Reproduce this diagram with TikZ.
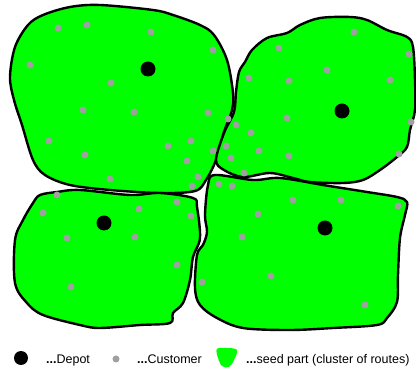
\documentclass[tikz,border=0pt]{standalone}
\usepackage{fontspec}
\setmainfont{Liberation Sans}
\definecolor{seedgreen}{RGB}{0,255,0}
\definecolor{custgray}{RGB}{160,160,160}
\begin{document}
\begin{tikzpicture}[x=1pt,y=-1pt,
  blob/.style={draw=black,fill=seedgreen,line width=2.4pt,line join=round},
  depot/.style={circle,fill=black,inner sep=0pt,minimum size=15pt},
  cust/.style={circle,fill=custgray,inner sep=0pt,minimum size=7pt},
  legtext/.style={anchor=base west,inner sep=0pt,font=\fontsize{12.5}{14}\selectfont}]
\useasboundingbox (0,0) rectangle (416,374);
% top-left blob
\draw[blob] plot[smooth cycle,tension=0.55] coordinates {
 (10,77) (15,47) (28,25) (43,15) (70,7) (100,5) (153,10) (173,15) (200,25) (214,35)
 (227,60) (233,93) (232,110) (224,132) (216,160) (206,180) (195,191) (160,193)
 (110,190) (70,185) (45,175) (33,160) (22,125) (14,100)};
% top-right blob
\draw[blob] plot[smooth cycle,tension=0.55] coordinates {
 (239,72) (245,62) (252,50) (267,38) (287,33) (300,25) (320,18) (350,17) (367,20)
 (387,30) (407,37) (413,47) (415,80) (415,110) (410,130) (407,147) (397,157)
 (380,170) (363,180) (343,183) (310,182) (293,178) (270,173) (243,177) (224,170)
 (216,160) (224,133) (234,112) (236,92)};
% bottom-left blob
\draw[blob] plot[smooth cycle,tension=0.55] coordinates {
 (40,195) (57,192) (80,190) (130,195) (160,193) (193,198) (197,207) (200,238)
 (193,257) (190,280) (183,303) (173,313) (170,323) (140,325) (100,328) (80,325)
 (43,315) (27,303) (15,283) (15,240) (23,220) (33,203)};
% bottom-right blob
\draw[blob] plot[smooth cycle,tension=0.55] coordinates {
 (215,175) (253,180) (280,178) (323,185) (367,192) (397,197) (407,202) (405,215)
 (400,238) (398,275) (397,302) (387,318) (377,325) (333,328) (290,330) (243,328)
 (217,318) (200,305) (195,288) (197,255) (203,245) (207,232) (205,215) (208,185)};
% customers
\foreach \p [count=\i] in {
 (58,28),(87,25),(151,32),(213,50),(30,65),(111,83),(83,110),(134,112),(208,113),
 (228,119),(236,125),(49,141),(168,146),(191,141),(226,146),(213,151),(85,155),
 (187,161),(231,158),(198,177),(110,179),(192,186),(219,184),(232,186),(57,195),
 (279,48),(354,32),(409,54),(249,78),(289,81),(327,70),(390,80),(287,118),(251,133),
 (259,151),(411,122),(289,156),(399,154),(244,173),
 (43,213),(139,209),(177,202),(191,216),(67,238),(135,237),(177,265),(71,287),(202,282),
 (293,200),(341,200),(398,206),(258,214),(242,237),(271,276),(365,305)}
  \node[cust] (c\i) at \p {};
% depots
\node[depot] (d1) at (148,69) {};
\node[depot] (d2) at (342,111) {};
\node[depot] (d3) at (104,223) {};
\node[depot] (d4) at (325,228) {};
% legend
\node[depot,minimum size=14pt] (ld) at (21,358) {};
\node[legtext] (ltd) at (46,364) {\textbf{...}Depot};
\node[cust] (lc) at (116,359) {};
\node[legtext] (ltc) at (137,364) {\textbf{...}Customer};
\fill[seedgreen] plot[smooth cycle,tension=0.6] coordinates {
 (217,349) (227,348) (237,350) (234,360) (229,367) (222,366) (218,358)};
\node[legtext] (lts) at (246,364) {\textbf{...}seed part (cluster of routes)};
\end{tikzpicture}
\end{document}
